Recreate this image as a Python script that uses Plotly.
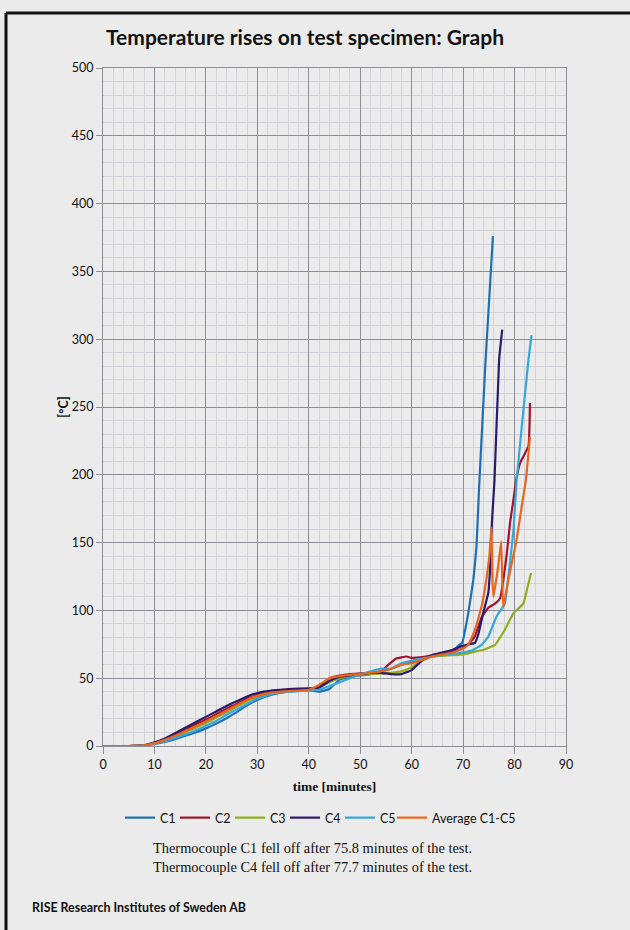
import plotly.graph_objects as go

# ---- data (minutes, °C) ----
t_c1 = [0, 5, 8, 10, 12, 14, 16, 18, 20, 22, 24, 26, 28, 30, 33, 36, 40, 42, 44, 46, 48, 50, 52, 54, 56, 58, 60, 62, 64, 66, 68,
        69.1, 69.8, 71, 72, 72.6, 73.1, 74.3, 75, 75.8]
c1 = [0, 0, 0.3, 1.5, 3, 5, 7.5, 10, 13, 16.5, 20.5, 25, 30, 34, 38, 40, 41, 40, 42, 49, 51, 52, 53, 55, 57, 60, 62, 64, 66, 68, 70,
      74, 76, 98, 123, 147, 190, 280, 325, 376]

t_c2 = [0, 5, 8, 10, 12, 14, 16, 18, 20, 22, 24, 26, 28, 30, 33, 36, 40, 42, 44, 46, 48, 50, 52, 54, 55.5, 57, 59, 60, 62, 64, 66, 68,
        70, 71.5, 72.3, 73.6, 74.9, 76.2, 77.2, 77.8, 78.5, 79.1, 79.8, 80.3, 81.1, 82.7, 83.0]
c2 = [0, 0, 0.5, 2.5, 5, 8.5, 12, 16, 19.5, 23.5, 27.5, 31, 35, 37.5, 40, 41, 42, 44, 50, 52, 53, 53.5, 54, 55, 60, 64.5, 66, 65, 65.5, 67, 68.5, 70,
      72, 77, 81, 95, 102, 105, 109, 122, 142, 164, 182, 196, 209, 221, 253]

t_c3 = [0, 5, 8, 10, 12, 14, 16, 18, 20, 22, 24, 26, 28, 30, 33, 36, 40, 42, 44, 46, 48, 50, 52, 54, 56, 58, 60, 62, 64, 66, 68,
        70, 72.3, 74, 76.2, 78.1, 79.8, 81.7, 82.4, 83.2]
c3 = [0, 0, 0.3, 2, 4, 6.5, 10, 13.5, 17, 21, 25, 29, 33, 36, 39, 40.5, 41, 43, 47, 50, 51.5, 52.5, 53, 53.5, 54, 55, 58, 63, 66, 66.5, 67,
      67.5, 69.6, 71, 74.6, 85.7, 98, 105, 115, 127.5]

t_c4 = [0, 5, 8, 10, 12, 14, 16, 18, 20, 22, 24, 26, 28, 30, 33, 36, 40, 42, 44, 46, 48, 50, 52, 54, 56, 58, 60, 62, 64, 66, 68,
        70, 71.3, 72.3, 73, 73.9, 74.9, 75.2, 75.6, 76.1, 77.0, 77.6]
c4 = [0, 0, 0.5, 2.5, 5.5, 9.5, 13.5, 17.5, 21.5, 25.5, 29.5, 33, 36.5, 39, 41, 42, 42.5, 43, 48, 51, 52, 53, 54, 54, 53, 53, 56, 63, 67, 69, 71,
      74, 75, 76, 83, 98, 113, 128, 165, 196, 285, 307]

t_c5 = [0, 5, 8, 10, 12, 14, 16, 18, 20, 22, 24, 26, 28, 30, 33, 36, 40, 42, 44, 46, 48, 50, 52, 54, 56, 58, 60, 62, 64, 66, 68,
        70, 72, 73.6, 74.9, 76.5, 78.1, 79.1, 79.8, 80.4, 82.7, 83.3]
c5 = [0, 0, 0.3, 1.8, 3.5, 6, 8.5, 11.5, 15, 18.5, 23, 27, 31, 35, 38.5, 40, 41, 41.5, 44, 47, 50, 53, 55, 57, 57, 61, 63, 64.5, 66, 67, 68,
      69, 71, 74.6, 80.7, 95.5, 105, 135, 159.5, 196, 285, 303]

t_avg = [0, 5, 8, 10, 12, 14, 16, 18, 20, 22, 24, 26, 28, 30, 33, 36, 40, 42, 44, 46, 48, 50, 52, 54, 56, 58, 60, 62, 64, 66, 68,
         70, 71, 72.3, 73.6, 74.6, 75.1, 75.5, 75.7, 75.9, 76.8, 77.4, 77.8, 78.8, 80.4, 81.4, 82.2, 83.0]
avg = [0, 0, 0.4, 2, 4.5, 7.5, 11, 14.5, 18, 22, 26, 30, 34, 37, 39.5, 40.5, 41.5, 45, 50, 51.5, 52.5, 53, 54, 55, 57, 60, 61, 63.5, 66, 67.5, 69,
       72, 74.6, 85.7, 103, 125, 140, 161, 123, 110, 132, 151, 102, 123, 152, 177, 196, 228]

series_names = ["C1", "C2", "C3", "C4", "C5", "Average C1-C5"]
series_colors = ["#1f6fb4", "#a3122e", "#8fae1b", "#2b1a6e", "#36a7dd", "#e8671c"]
series_legend = ["legend", "legend", "legend", "legend", "legend", "legend2"]
series_t = [t_c1, t_c2, t_c3, t_c4, t_c5, t_avg]
series_y = [c1, c2, c3, c4, c5, avg]

x_ticks = list(range(0, 91, 10))
y_ticks = list(range(0, 501, 50))

notes = ["Thermocouple C1 fell off after 75.8 minutes of the test.",
         "Thermocouple C4 fell off after 77.7 minutes of the test."]

fig = go.Figure()
for name, col, lg, tt, yy in zip(series_names, series_colors, series_legend, series_t, series_y):
    fig.add_trace(go.Scatter(x=tt, y=yy, mode="lines", name=name, legend=lg,
                             line=dict(color=col, width=2.2, shape="spline", smoothing=0.3)))

BG = "#ebebeb"
MAJOR = "#8e8e98"
MINOR = "#d2d2d8"
LEG_FONT = dict(family="Lato", size=12.5, color="#111")

fig.update_layout(
    width=630, height=930,
    paper_bgcolor=BG, plot_bgcolor=BG,
    margin=dict(l=103, r=64, t=68, b=184),
    title=dict(text="<b>Temperature rises on test specimen: Graph</b>",
               x=305 / 630, xanchor="center", y=1 - 38 / 930, yanchor="middle",
               font=dict(family="Lato", size=21, color="#111")),
    showlegend=True,
    legend=dict(orientation="h", xref="container", yref="container",
                x=120 / 630, xanchor="left", y=1 - 818 / 930, yanchor="middle",
                font=LEG_FONT, bgcolor="rgba(0,0,0,0)", tracegroupgap=0, itemwidth=30,
                entrywidth=10, entrywidthmode="pixels"),
    legend2=dict(orientation="h", xref="container", yref="container",
                 x=392 / 630, xanchor="left", y=1 - 818 / 930, yanchor="middle",
                 font=LEG_FONT, bgcolor="rgba(0,0,0,0)", itemwidth=30),
    font=dict(family="Lato", color="#111"),
)

fig.update_xaxes(range=[0, 90], tickvals=x_ticks, ticktext=[str(v) for v in x_ticks],
                 showgrid=True, gridcolor=MAJOR, gridwidth=1,
                 minor=dict(dtick=2, showgrid=True, gridcolor=MINOR, gridwidth=1),
                 zeroline=False, showline=True, linecolor=MAJOR, linewidth=1, mirror=True,
                 ticks="outside", ticklen=7, tickcolor=MAJOR,
                 tickfont=dict(family="Lato", size=12.5, color="#111"),
                 title=dict(text="<b>time [minutes]</b>", standoff=10,
                            font=dict(family="Liberation Serif", size=13.5, color="#111")))
fig.update_yaxes(range=[0, 500], tickvals=y_ticks, ticktext=[str(v) for v in y_ticks],
                 showgrid=True, gridcolor=MAJOR, gridwidth=1,
                 minor=dict(dtick=10, showgrid=True, gridcolor=MINOR, gridwidth=1),
                 zeroline=False, showline=True, linecolor=MAJOR, linewidth=1, mirror=True,
                 ticks="outside", ticklen=6, tickcolor=MAJOR,
                 tickfont=dict(family="Lato", size=12.5, color="#111"),
                 title=dict(text="<b>[°C]</b>", standoff=0,
                            font=dict(family="Lato", size=12.5, color="#111")))

# notes under the legend
fig.add_annotation(text=notes[0] + "<br>" + notes[1], xref="paper", yref="paper",
                   x=(151 - 103) / 463, y=(746 - 857.5) / 678, xanchor="left", yanchor="middle",
                   align="left", showarrow=False,
                   font=dict(family="Liberation Serif", size=14.4, color="#111"))
# footer
fig.add_annotation(text="<b>RISE Research Institutes of Sweden AB</b>", xref="paper", yref="paper",
                   x=(30 - 103) / 463, y=(746 - 907) / 678, xanchor="left", yanchor="middle",
                   showarrow=False, font=dict(family="Lato", size=12.4, color="#111"))

# scanned page border (left and top edges)
fig.add_shape(type="line", xref="paper", yref="paper",
              x0=(6 - 103) / 463, x1=(6 - 103) / 463, y0=(746 - 13) / 678, y1=(746 - 935) / 678,
              line=dict(color="#111", width=3))
fig.add_shape(type="line", xref="paper", yref="paper",
              x0=(6 - 103) / 463, x1=(635 - 103) / 463, y0=(746 - 13) / 678, y1=(746 - 13) / 678,
              line=dict(color="#111", width=3))

fig.write_html("out.html",
               config={"displayModeBar": False},
               post_script="document.body.style.margin='0';document.body.style.padding='0';"
                           "document.body.style.background='#ebebeb';"
                           "document.body.style.overflow='hidden';")
